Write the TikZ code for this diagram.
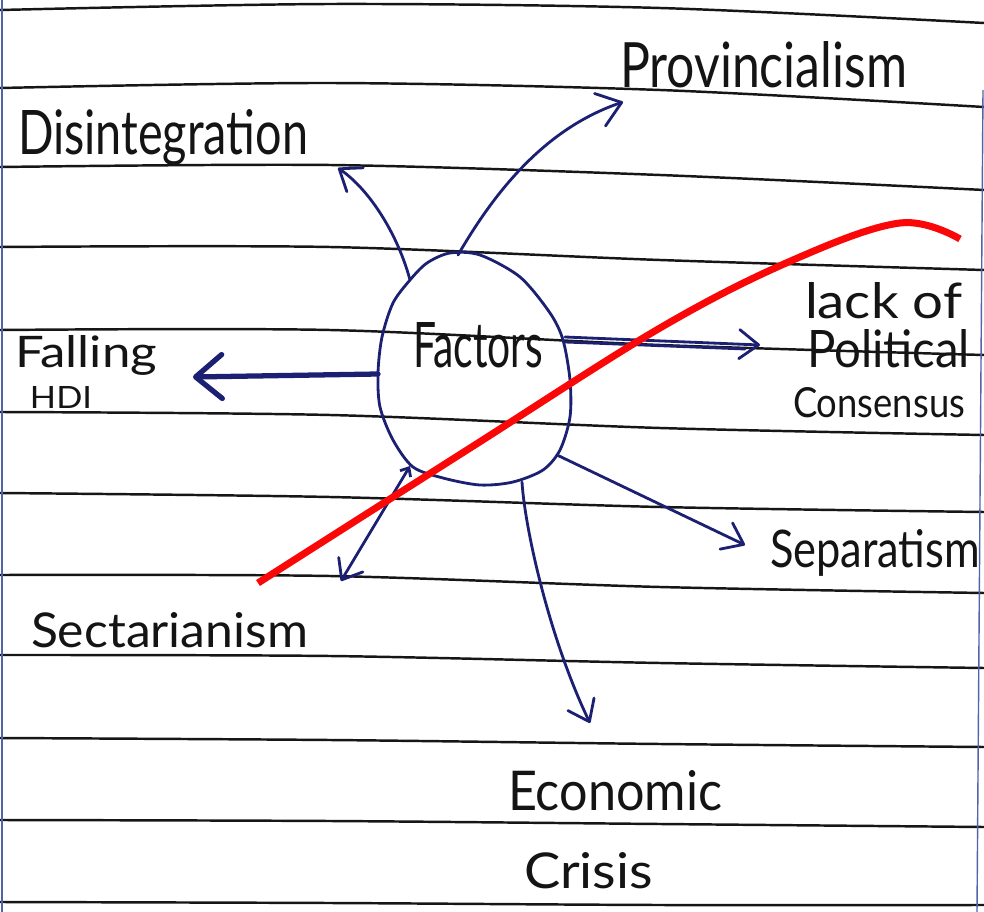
\documentclass[tikz,border=0pt]{standalone}
\usepackage{fontspec}
\setmainfont{Lato}
\usepackage{graphicx}
\usetikzlibrary{arrows.meta}
\newlength{\pxu}\setlength{\pxu}{0.02cm}
\newcommand{\hw}[3]{\resizebox{#1\pxu}{#2\pxu}{#3}}
\definecolor{ink}{RGB}{28,32,115}
\definecolor{rulec}{RGB}{22,22,22}
\definecolor{redpen}{RGB}{250,8,8}
\definecolor{marginc}{RGB}{80,100,170}
\begin{document}
\begin{tikzpicture}[x=0.02cm,y=-0.02cm,
  ruling/.style={draw=rulec, line width=1.4pt},
  lbl/.style={inner sep=0pt, outer sep=0pt, text=black!92, anchor=base west},
  pen/.style={draw=ink, line width=1.6pt, line cap=round, line join=round},
  hwarrow/.style={pen, -{Straight Barb[length=#1pt, width=1.5*#1pt, line cap=round, line join=round]}},
  redline/.style={draw=redpen, line width=4pt}]
\fill[white] (0,0) rectangle (984,912);
\useasboundingbox (0,0) rectangle (984,912);

% ruled paper
\foreach \a/\b/\c/\d in {10/4/8/23, 88/83/90/107, 167/165/175/190, 247/247/260/270,
  330/330/345/355, 412/415/428/435, 493/497/507/512, 575/576/587/593,
  655/656/663/668, 738/740/744/747, 820/821/824/827, 902/903/905/905}
  \draw[ruling] plot[smooth] coordinates {(0,\a) (330,\b) (660,\c) (984,\d)};
\draw[marginc, line width=0.8pt] (2,0) -- (2,912);
\draw[marginc, line width=0.8pt] (983,90) -- (977,912);

% labels
\node[lbl] (prov) at (620,88) {\hw{287}{46}{Provincialism}};
\node[lbl] (disi) at (18,155) {\hw{290}{45}{Disintegration}};
\node[lbl] (fall) at (15,367) {\hw{142}{32}{Falling}};
\node[lbl] (hdi) at (30,408) {\hw{62}{22}{HDI}};
\node[lbl] (fac) at (413,368) {\hw{130}{45}{Factors}};
\node[lbl] (lack) at (805,318) {\hw{157}{36}{lack of}};
\node[lbl] (poli) at (807,367) {\hw{163}{38}{Political}};
\node[lbl] (cons) at (793,417) {\hw{172}{30}{Consensus}};
\node[lbl] (sepa) at (770,567) {\hw{210}{38}{Separatism}};
\node[lbl] (sect) at (31,647) {\hw{277}{35}{Sectarianism}};
\node[lbl] (econ) at (508,810) {\hw{214}{40}{Economic}};
\node[lbl] (cris) at (524,888) {\hw{129}{36}{Crisis}};

% egg outline
\coordinate (eP) at (458,255);
\coordinate (eD) at (410,280);
\coordinate (eH) at (378,374);
\coordinate (eC) at (565,337);
\coordinate (eC2) at (565,342);
\coordinate (eS) at (557,455);
\coordinate (eE) at (522,482);
\coordinate (eT) at (410,466);
\draw[pen] plot[smooth cycle, tension=0.5] coordinates {(450,253) (480,255) (520,277)
  (550,313) (563,340) (570,380) (570,417) (560,450) (543,470) (513,482) (480,485)
  (443,478) (413,467) (393,440) (380,407) (378,373) (382,337) (393,303) (410,280) (427,263)};

% arrow tips
\coordinate (tP) at (623,102);
\coordinate (tD) at (338,168);
\coordinate (tH) at (193,377);
\coordinate (tC) at (760,345);
\coordinate (tC2) at (745,349);
\coordinate (tS) at (745,545);
\coordinate (tE) at (590,723);
\coordinate (tT) at (341,581);

\draw[hwarrow=13] (eP) .. controls (490,200) and (540,130) .. (tP);
\draw[hwarrow=11] (eD) .. controls (398,235) and (370,190) .. (tD);
\draw[ink, line width=3pt, line cap=round, line join=round,
  -{Straight Barb[length=15pt, width=25pt, line cap=round, line join=round]}] (eH) -- (tH);
\draw[hwarrow=11] (eC) -- (tC);
\draw[pen] (eC2) -- (tC2);
\draw[hwarrow=11] (eS) -- (tS);
\draw[hwarrow=11] (eE) .. controls (525,530) and (550,640) .. (tE);
\draw[pen, {Straight Barb[length=4pt, width=7pt]}-{Straight Barb[length=10pt, width=16pt, line cap=round, line join=round]}] (eT) -- (tT);

% red pen stroke
\draw[redline] plot[smooth, tension=0.6] coordinates {(258,583) (467,450) (660,328) (793,260) (900,223) (960,239)};
\end{tikzpicture}
\end{document}
